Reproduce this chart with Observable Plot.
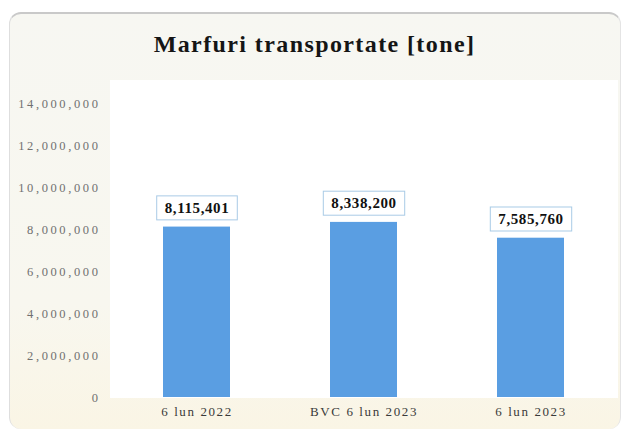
<!DOCTYPE html>
<html>
<head>
<meta charset="utf-8">
<script src="https://cdn.jsdelivr.net/npm/d3@7"></script>
<script src="https://cdn.jsdelivr.net/npm/@observablehq/plot@0.6"></script>
<style>
  html, body { margin: 0; padding: 0; background: #ffffff; }
  #wrap { position: relative; width: 629px; height: 432px; overflow: hidden; font-family: "Liberation Serif", "Times New Roman", serif; }
  .panel { position: absolute; left: 9px; top: 12px; width: 612px; height: 417px;
           background: linear-gradient(to bottom, #f7f7f2 0%, #f8f7ef 70%, #faf5e5 100%);
           border-top: 2px solid #c9c9c9; border-left: 1px solid #dedede; border-right: 1px solid #e4e4e4;
           border-radius: 12px; box-sizing: border-box; }
  .plotbg { position: absolute; left: 110px; top: 80px; width: 508px; height: 318px; background: #ffffff; }
  .title { position: absolute; left: 0; top: 31px; width: 629px; text-align: center;
           font: bold 24px "Liberation Serif", "Times New Roman", serif; letter-spacing: 1.4px; color: #151515; }
  #chart { position: absolute; left: 0; top: 70px; }
  #chart svg { background: transparent !important; overflow: visible; }
</style>
</head>
<body>
<div id="wrap">
  <div class="panel"></div>
  <div class="plotbg"></div>
  <div class="title">Marfuri transportate [tone]</div>
  <div id="chart"></div>
</div>
<script>
const categories = ["6 lun 2022", "BVC 6 lun 2023", "6 lun 2023"];
const values = [8115401, 8338200, 7585760];
const yTicks = [0, 2000000, 4000000, 6000000, 8000000, 10000000, 12000000, 14000000];

const data = categories.map((c, i) => ({category: c, value: values[i]}));
const fmt = d3.format(",");
const serif = "Liberation Serif, Times New Roman, serif";

const svg = Plot.plot({
  width: 629,
  height: 355,
  marginLeft: 113,
  marginRight: 15,
  marginTop: 33,
  marginBottom: 28,
  style: {background: "transparent", fontFamily: serif},
  x: {domain: categories, paddingInner: 0.6, paddingOuter: 0.3, label: null},
  y: {domain: [0, 14000000], label: null},
  marks: [
    Plot.axisY({ticks: yTicks, tickFormat: fmt, tickSize: 0, tickPadding: 13, fontSize: 12.5, fill: "#707070", label: null}),
    Plot.axisX({tickSize: 0, tickPadding: 9, fontSize: 13, fill: "#3a3a3a", label: null}),
    Plot.barY(data, {x: "category", y: "value", fill: "#5a9ee2"}),
    Plot.text(data, {x: "category", y: "value", text: d => fmt(d.value), dy: -19,
                     fontWeight: "bold", fontSize: 15, fill: "#111111"})
  ]
});
document.getElementById("chart").appendChild(svg);

// letter spacing for the stretched-looking tick labels
d3.select(svg).selectAll('g[aria-label="y-axis tick label"] text').style("letter-spacing", "2.6px");
d3.select(svg).selectAll('g[aria-label="x-axis tick label"] text').style("letter-spacing", "1.6px");

// boxed value labels
d3.select(svg).selectAll('g[aria-label="text"] text').each(function() {
  this.style.letterSpacing = "0.6px";
  const b = this.getBBox();
  const padX = 8, padY = 4;
  const t = this.getAttribute("transform");
  const r = document.createElementNS("http://www.w3.org/2000/svg", "rect");
  r.setAttribute("x", b.x - padX);
  r.setAttribute("y", b.y - padY);
  r.setAttribute("width", b.width + 2 * padX);
  r.setAttribute("height", b.height + 2 * padY);
  if (t) r.setAttribute("transform", t);
  r.setAttribute("fill", "#ffffff");
  r.setAttribute("stroke", "#a9cbe6");
  r.setAttribute("stroke-width", "1");
  this.parentNode.insertBefore(r, this);
});
</script>
</body>
</html>
